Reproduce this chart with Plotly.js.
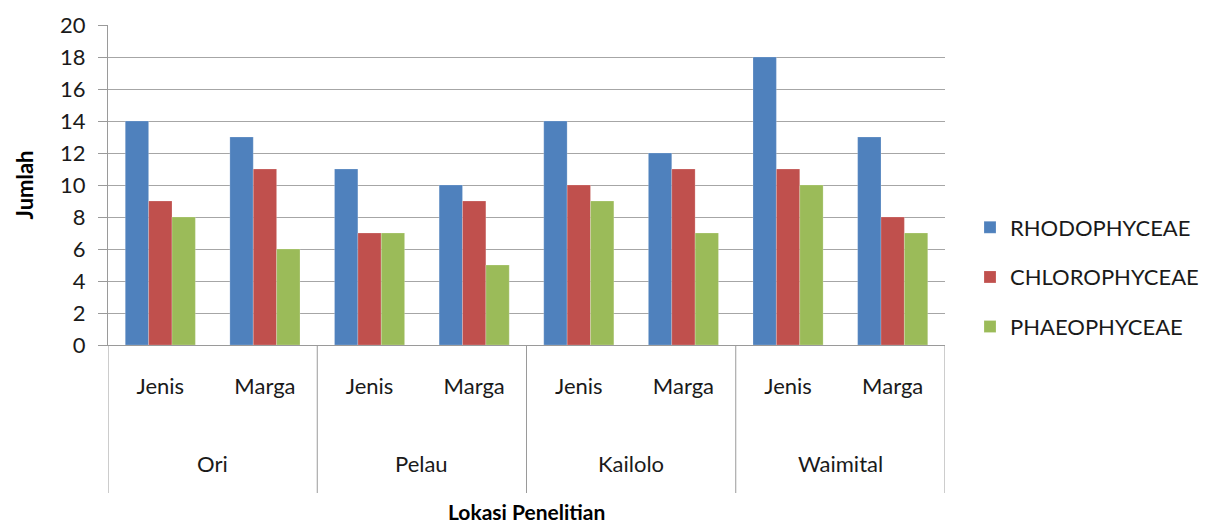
<!DOCTYPE html>
<html>
<head>
<meta charset="utf-8">
<script src="https://cdn.plot.ly/plotly-3.0.1.min.js"></script>
<style>html,body{margin:0;padding:0;background:#fff;}#chart{width:1212px;height:527px;}</style>
</head>
<body>
<div id="chart"></div>
<script>
const groups = ["Ori", "Pelau", "Kailolo", "Waimital"];
const subs = ["Jenis", "Marga"];
const seriesNames = ["RHODOPHYCEAE", "CHLOROPHYCEAE", "PHAEOPHYCEAE"];
const rhodophyceae = [14, 13, 11, 10, 14, 12, 18, 13];
const chlorophyceae = [9, 11, 7, 9, 10, 11, 11, 8];
const phaeophyceae = [8, 6, 7, 5, 9, 7, 10, 7];
const colors = ["#4F81BD", "#C0504D", "#9BBB59"];
const yTitle = "Jumlah";
const xTitle = "Lokasi Penelitian";

const FONT = "Lato, 'Liberation Sans', sans-serif";
const idx = [];
const tickText = [];
groups.forEach(function () { subs.forEach(function (s) { idx.push(idx.length); tickText.push(s); }); });

const values = [rhodophyceae, chlorophyceae, phaeophyceae];
const traces = values.map(function (v, i) {
  return {
    type: "bar", x: idx, y: v, name: seriesNames[i], legendgroup: "g" + i,
    marker: { color: colors[i], line: { color: "rgba(255,255,255,0.35)", width: 0.6 } },
    hoverinfo: "x+y+name"
  };
});

const plotTop = 25, plotBottom = 345, plotH = plotBottom - plotTop;
const shapes = [];
for (let g = 0; g <= groups.length; g++) {
  shapes.push({
    type: "line", xref: "x", yref: "paper",
    x0: g * subs.length - 0.5, x1: g * subs.length - 0.5,
    y0: 0, y1: -(493 - plotBottom) / plotH,
    line: { color: "#9a9a9a", width: 1 }
  });
}
const annotations = groups.map(function (g, i) {
  return {
    text: g, xref: "x", yref: "paper", x: i * subs.length + (subs.length - 1) / 2,
    y: -(463 - plotBottom) / plotH, yanchor: "middle", showarrow: false,
    font: { family: FONT, size: 22, color: "#1a1a1a" }
  };
});
annotations.push({
  text: "<b>" + xTitle + "</b>", xref: "paper", yref: "paper", x: 0.5,
  y: -(526 - plotBottom) / plotH, yanchor: "bottom", showarrow: false,
  font: { family: FONT, size: 21, color: "#000" }
});

const layout = {
  width: 1212, height: 527,
  margin: { l: 108, r: 267, t: plotTop, b: 527 - plotBottom, autoexpand: false },
  paper_bgcolor: "#fff", plot_bgcolor: "#fff",
  font: { family: FONT, size: 22, color: "#1a1a1a" },
  barmode: "group", bargap: 0.33, bargroupgap: 0,
  showlegend: true,
  legend: {
    x: (970 - 108) / 837, xanchor: "left", y: 1 - (277 - plotTop) / plotH, yanchor: "middle",
    font: { family: FONT, size: 22, color: "#1a1a1a" },
    traceorder: "grouped", tracegroupgap: 18, itemwidth: 30
  },
  xaxis: {
    type: "linear", range: [-0.5, idx.length - 0.5],
    tickmode: "array", tickvals: idx, ticktext: tickText,
    ticks: "", ticklabelstandoff: 22, showgrid: false, zeroline: false,
    showline: true, linecolor: "#9a9a9a", linewidth: 1,
    tickfont: { family: FONT, size: 22, color: "#1a1a1a" },
    fixedrange: true
  },
  yaxis: {
    range: [0, 20], dtick: 2, tick0: 0,
    ticks: "outside", ticklen: 9, tickcolor: "#9a9a9a", ticklabelstandoff: 8,
    showgrid: true, gridcolor: "#a6a6a6", gridwidth: 1, zeroline: false,
    showline: true, linecolor: "#9a9a9a", linewidth: 1,
    tickfont: { family: FONT, size: 22, color: "#1a1a1a" },
    title: { text: "<b>" + yTitle + "</b>", standoff: 20, font: { family: FONT, size: 22, color: "#000" } },
    automargin: false
  },
  shapes: shapes,
  annotations: annotations
};

Plotly.newPlot("chart", traces, layout, { displayModeBar: false, staticPlot: true });
</script>
</body>
</html>
